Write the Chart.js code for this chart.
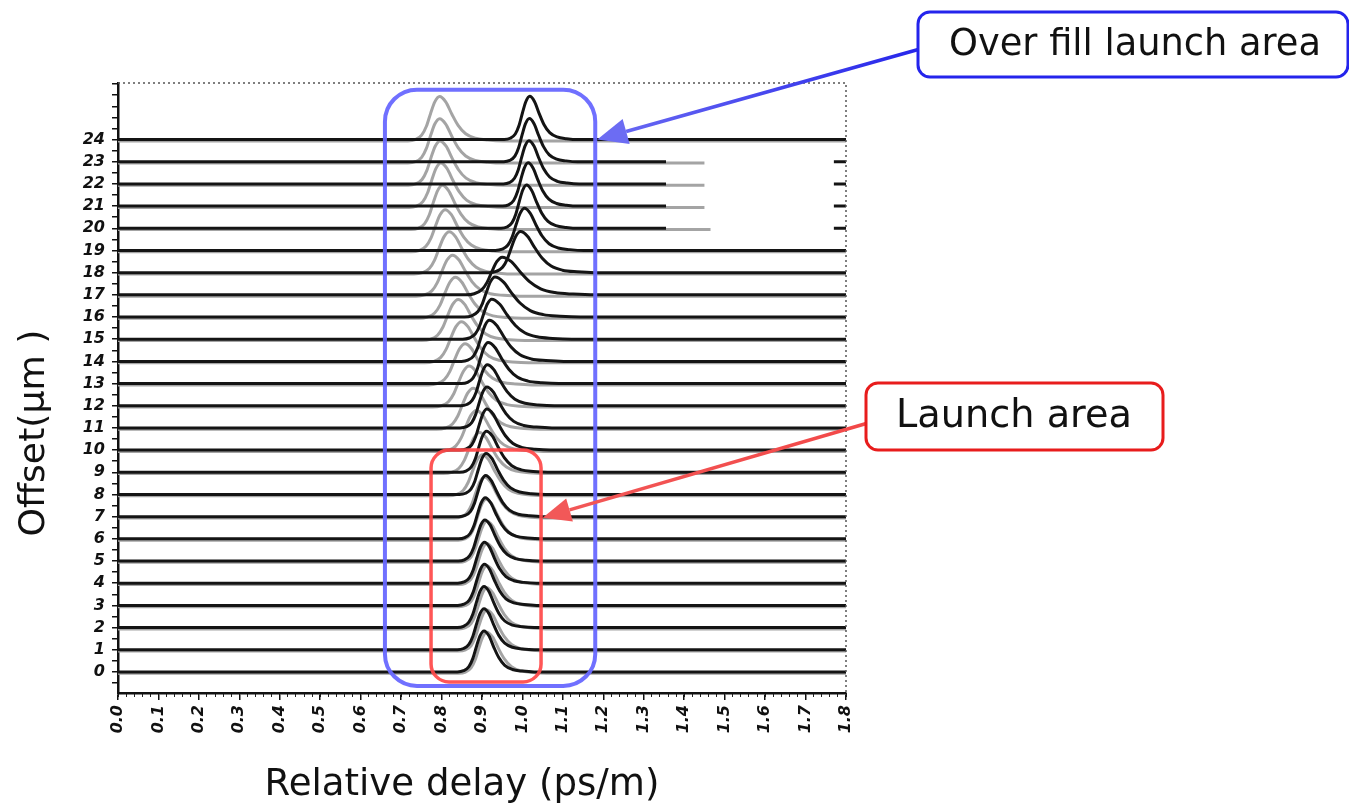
<!DOCTYPE html>
<html>
<head>
<meta charset="utf-8">
<script src="https://cdn.jsdelivr.net/npm/chart.js@4.4.1/dist/chart.umd.min.js"></script>
<style>
  html, body { margin: 0; padding: 0; background: #fff; }
</style>
</head>
<body>
<canvas id="dmdChart" width="1349" height="806"></canvas>
<script>
// radial launch offset of each trace (um) - also the y tick labels
var offsets = [0, 1, 2, 3, 4, 5, 6, 7, 8, 9, 10, 11, 12, 13, 14, 15, 16, 17, 18, 19, 20, 21, 22, 23, 24];

// black traces: pulse delay (ps/m), height (in offset units), half widths left / right, end of record
var blackPeak = [0.905, 0.905, 0.905, 0.906, 0.906, 0.907, 0.908, 0.909, 0.910, 0.911,
                 0.912, 0.912, 0.913, 0.915, 0.918, 0.924, 0.932, 0.950, 0.995, 1.005,
                 1.010, 1.014, 1.016, 1.017, 1.018];
var blackHeight = [1.85, 1.85, 1.85, 1.85, 1.85, 1.85, 1.85, 1.85, 1.85, 1.85,
                   1.85, 1.85, 1.85, 1.85, 1.85, 1.8, 1.8, 1.7, 1.85, 1.9,
                   1.95, 1.95, 1.95, 1.95, 1.95];
var blackLeftW = [0.022, 0.022, 0.022, 0.022, 0.022, 0.022, 0.022, 0.022, 0.022, 0.022,
                  0.022, 0.022, 0.022, 0.022, 0.023, 0.024, 0.025, 0.030, 0.026, 0.024,
                  0.021, 0.021, 0.021, 0.021, 0.021];
var blackRightW = [0.027, 0.027, 0.027, 0.028, 0.028, 0.029, 0.030, 0.031, 0.032, 0.033,
                   0.034, 0.035, 0.036, 0.038, 0.040, 0.043, 0.046, 0.050, 0.040, 0.032,
                   0.028, 0.027, 0.027, 0.026, 0.026];
var blackEnd = [1.8, 1.8, 1.8, 1.8, 1.8, 1.8, 1.8, 1.8, 1.8, 1.8,
                1.8, 1.8, 1.8, 1.8, 1.8, 1.8, 1.8, 1.8, 1.8, 1.8,
                1.355, 1.355, 1.355, 1.355, 1.8];
// short leftover piece at the right border for the clipped records
var blackStub = [null, null, null, null, null, null, null, null, null, null,
                 null, null, null, null, null, null, null, null, null, null,
                 1.77, 1.77, 1.77, 1.77, null];

// grey (second) traces
var greyPeak = [0.912, 0.912, 0.912, 0.912, 0.912, 0.912, 0.910, 0.906, 0.901, 0.894,
                0.886, 0.878, 0.868, 0.858, 0.849, 0.841, 0.834, 0.827, 0.819, 0.809,
                0.802, 0.798, 0.796, 0.795, 0.795];
var greyHeight = [1.85, 1.85, 1.85, 1.85, 1.85, 1.85, 1.85, 1.85, 1.85, 1.85,
                  1.85, 1.85, 1.85, 1.85, 1.85, 1.85, 1.85, 1.85, 1.9, 1.9,
                  2.0, 2.0, 2.0, 2.0, 2.0];
var greyLeftW = [0.023, 0.023, 0.023, 0.023, 0.023, 0.023, 0.023, 0.025, 0.028, 0.030,
                 0.030, 0.030, 0.030, 0.030, 0.030, 0.030, 0.030, 0.030, 0.029, 0.028,
                 0.026, 0.026, 0.026, 0.026, 0.026];
var greyRightW = [0.032, 0.032, 0.032, 0.032, 0.032, 0.032, 0.032, 0.033, 0.034, 0.035,
                  0.036, 0.036, 0.036, 0.036, 0.036, 0.036, 0.036, 0.036, 0.035, 0.034,
                  0.034, 0.034, 0.034, 0.034, 0.034];
var greyEnd = [1.8, 1.8, 1.8, 1.8, 1.8, 1.8, 1.8, 1.8, 1.8, 1.8,
               1.8, 1.8, 1.8, 1.8, 1.8, 1.8, 1.8, 1.8, 1.8, 1.8,
               1.465, 1.45, 1.45, 1.45, 1.8];
var greyShift = -0.06;

// pulse shape: x in half widths, y as fraction of the peak
var pulseDx = [-3.0, -2.3, -1.7, -1.25, -0.85, -0.45, 0, 0.45, 0.9, 1.35, 1.9, 2.6, 3.5, 4.6];
var pulseDy = [0, 0.03, 0.13, 0.33, 0.62, 0.88, 1, 0.88, 0.6, 0.35, 0.16, 0.06, 0.02, 0];

var delayMin = 0, delayMax = 1.8;
var yTickValues = [];
for (var t = -0.5; t <= 26.5; t += 0.5) yTickValues.push(t);

function trace(n, peak, height, wl, wr, end, stub, shift) {
  var base = offsets[n] + shift;
  var pts = [{ x: delayMin, y: base }];
  for (var i = 0; i < pulseDx.length; i++) {
    var x = peak[n] + pulseDx[i] * (pulseDx[i] < 0 ? wl[n] : wr[n]);
    if (x > delayMin && x < end[n]) pts.push({ x: x, y: base + pulseDy[i] * height[n] });
  }
  pts.push({ x: end[n], y: base });
  if (stub && stub[n] != null) {
    pts.push({ x: (end[n] + stub[n]) / 2, y: null });
    pts.push({ x: stub[n], y: base });
    pts.push({ x: delayMax, y: base });
  }
  return pts;
}

var datasets = [];
offsets.forEach(function (o, n) {
  datasets.push({
    label: "offset " + o,
    data: trace(n, blackPeak, blackHeight, blackLeftW, blackRightW, blackEnd, blackStub, 0),
    borderColor: "#141414",
    borderWidth: 3,
    order: 1
  });
  datasets.push({
    label: "offset " + o + " (grey)",
    data: trace(n, greyPeak, greyHeight, greyLeftW, greyRightW, greyEnd, null, greyShift),
    borderColor: "#a4a4a4",
    borderWidth: 3,
    order: 2
  });
});

function roundRect(ctx, x, y, w, h, r) {
  ctx.beginPath();
  ctx.moveTo(x + r, y);
  ctx.lineTo(x + w - r, y);
  ctx.arcTo(x + w, y, x + w, y + r, r);
  ctx.lineTo(x + w, y + h - r);
  ctx.arcTo(x + w, y + h, x + w - r, y + h, r);
  ctx.lineTo(x + r, y + h);
  ctx.arcTo(x, y + h, x, y + h - r, r);
  ctx.lineTo(x, y + r);
  ctx.arcTo(x, y, x + r, y, r);
  ctx.closePath();
}

function fitFont(ctx, text, width, family) {
  ctx.font = "100px " + family;
  return 100 * width / ctx.measureText(text).width;
}

function arrow(ctx, x0, y0, x1, y1, c0, c1, lw, headLen, headW) {
  var a = Math.atan2(y1 - y0, x1 - x0);
  var bx = x1 - headLen * Math.cos(a), by = y1 - headLen * Math.sin(a);
  var g = ctx.createLinearGradient(x0, y0, x1, y1);
  g.addColorStop(0, c0);
  g.addColorStop(1, c1);
  ctx.strokeStyle = g;
  ctx.lineWidth = lw;
  ctx.beginPath();
  ctx.moveTo(x0, y0);
  ctx.lineTo(bx, by);
  ctx.stroke();
  ctx.fillStyle = c1;
  ctx.beginPath();
  ctx.moveTo(x1, y1);
  ctx.lineTo(bx + headW / 2 * Math.sin(a), by - headW / 2 * Math.cos(a));
  ctx.lineTo(bx - headW / 2 * Math.sin(a), by + headW / 2 * Math.cos(a));
  ctx.closePath();
  ctx.fill();
}

var annotations = {
  id: "annotations",
  afterDatasetsDraw: function (chart) {
    var ctx = chart.ctx, xs = chart.scales.x, ys = chart.scales.y;
    ctx.save();
    // over fill launch area
    var l = xs.getPixelForValue(0.66), r = xs.getPixelForValue(1.18);
    var t = ys.getPixelForValue(26.25), b = ys.getPixelForValue(-0.63);
    ctx.strokeStyle = "rgba(104,104,255,0.95)";
    ctx.lineWidth = 4;
    roundRect(ctx, l, t, r - l, b - t, 32);
    ctx.stroke();
    // launch area
    l = xs.getPixelForValue(0.774); r = xs.getPixelForValue(1.046);
    t = ys.getPixelForValue(10.0); b = ys.getPixelForValue(-0.45);
    ctx.strokeStyle = "rgba(255,72,72,0.92)";
    ctx.lineWidth = 3.5;
    roundRect(ctx, l, t, r - l, b - t, 18);
    ctx.stroke();
    ctx.restore();
  },
  afterDraw: function (chart) {
    var ctx = chart.ctx, a = chart.chartArea, xs = chart.scales.x, ys = chart.scales.y;
    var fam = "'DejaVu Sans', sans-serif";
    ctx.save();
    // dotted top and right frame
    ctx.strokeStyle = "#555";
    ctx.lineWidth = 1.5;
    ctx.setLineDash([2, 3]);
    ctx.beginPath();
    ctx.moveTo(a.left, a.top);
    ctx.lineTo(a.right, a.top);
    ctx.lineTo(a.right, a.bottom);
    ctx.stroke();
    ctx.setLineDash([]);

    // axis titles
    ctx.fillStyle = "#111";
    ctx.textAlign = "center";
    ctx.textBaseline = "middle";
    var s = fitFont(ctx, "Relative delay (ps/m)", 395, fam);
    ctx.font = s + "px " + fam;
    ctx.fillText("Relative delay (ps/m)", 462, 785);
    ctx.save();
    ctx.translate(35, 433);
    ctx.rotate(-Math.PI / 2);
    s = fitFont(ctx, "Offset(\u03bcm )", 207, fam);
    ctx.font = s + "px " + fam;
    ctx.fillText("Offset(\u03bcm )", 0, 0);
    ctx.restore();

    // callout: over fill launch area
    arrow(ctx, 920, 49, xs.getPixelForValue(1.185), ys.getPixelForValue(24),
          "#2626ea", "#6c6cf3", 3.5, 30, 26);
    ctx.fillStyle = "#fff";
    ctx.strokeStyle = "#2424ec";
    ctx.lineWidth = 3;
    roundRect(ctx, 918, 12, 430, 65, 12);
    ctx.fill();
    ctx.stroke();
    ctx.fillStyle = "#111";
    s = fitFont(ctx, "Over fill launch area", 372, fam);
    ctx.font = s + "px " + fam;
    ctx.fillText("Over fill launch area", 1135, 45);

    // callout: launch area
    arrow(ctx, 868, 423, xs.getPixelForValue(1.05), ys.getPixelForValue(6.95),
          "#f24848", "#f25858", 3.5, 28, 24);
    ctx.fillStyle = "#fff";
    ctx.strokeStyle = "#e81c1c";
    ctx.lineWidth = 3;
    roundRect(ctx, 866, 383, 297, 67, 12);
    ctx.fill();
    ctx.stroke();
    ctx.fillStyle = "#111";
    s = fitFont(ctx, "Launch area", 236, fam);
    ctx.font = s + "px " + fam;
    ctx.fillText("Launch area", 1014, 417);
    ctx.restore();
  }
};

var yTickFont = { family: "'DejaVu Sans', sans-serif", size: 16, weight: "bold", style: "italic" };
var xTickFont = { family: "'DejaVu Sans', sans-serif", size: 16, weight: "bold", style: "italic" };

new Chart(document.getElementById("dmdChart"), {
  type: "line",
  data: { datasets: datasets },
  options: {
    responsive: false,
    animation: false,
    devicePixelRatio: 1,
    layout: { padding: { left: 0, top: 83, right: 503, bottom: 0 } },
    plugins: { legend: { display: false }, tooltip: { enabled: false } },
    elements: {
      point: { radius: 0 },
      line: { cubicInterpolationMode: "monotone", fill: false }
    },
    scales: {
      xMinor: {
        type: "linear", position: "bottom", weight: 0,
        min: delayMin, max: delayMax,
        ticks: { display: false, stepSize: 0.02 },
        grid: { drawOnChartArea: false, tickLength: 4, color: "#222", lineWidth: 1 },
        border: { display: false },
        afterFit: function (s) { s.height = 0; s.paddingLeft = 0; s.paddingRight = 0; }
      },
      x: {
        type: "linear", position: "bottom", weight: 1,
        min: delayMin, max: delayMax,
        ticks: {
          stepSize: 0.1, autoSkip: false, minRotation: 90, maxRotation: 90,
          padding: 5, color: "#111", font: xTickFont,
          callback: function (v) { return v.toFixed(1); }
        },
        grid: { drawOnChartArea: false, tickLength: 7, color: "#111", lineWidth: 1.5 },
        border: { color: "#111", width: 2.5 },
        afterFit: function (s) { s.height = 113; s.paddingLeft = 0; s.paddingRight = 0; }
      },
      y: {
        type: "linear", min: -0.95, max: 26.55,
        afterBuildTicks: function (s) {
          s.ticks = yTickValues.map(function (v) { return { value: v }; });
        },
        ticks: {
          autoSkip: false, padding: 7, color: "#111", font: yTickFont,
          callback: function (v) {
            return offsets.indexOf(v) >= 0 ? String(v) : "";
          }
        },
        grid: { drawOnChartArea: false, tickLength: 6, color: "#111", lineWidth: 1.5 },
        border: { color: "#111", width: 2.5 },
        afterFit: function (s) { s.width = 118; s.paddingTop = 0; s.paddingBottom = 0; }
      }
    }
  },
  plugins: [annotations]
});
</script>
</body>
</html>
